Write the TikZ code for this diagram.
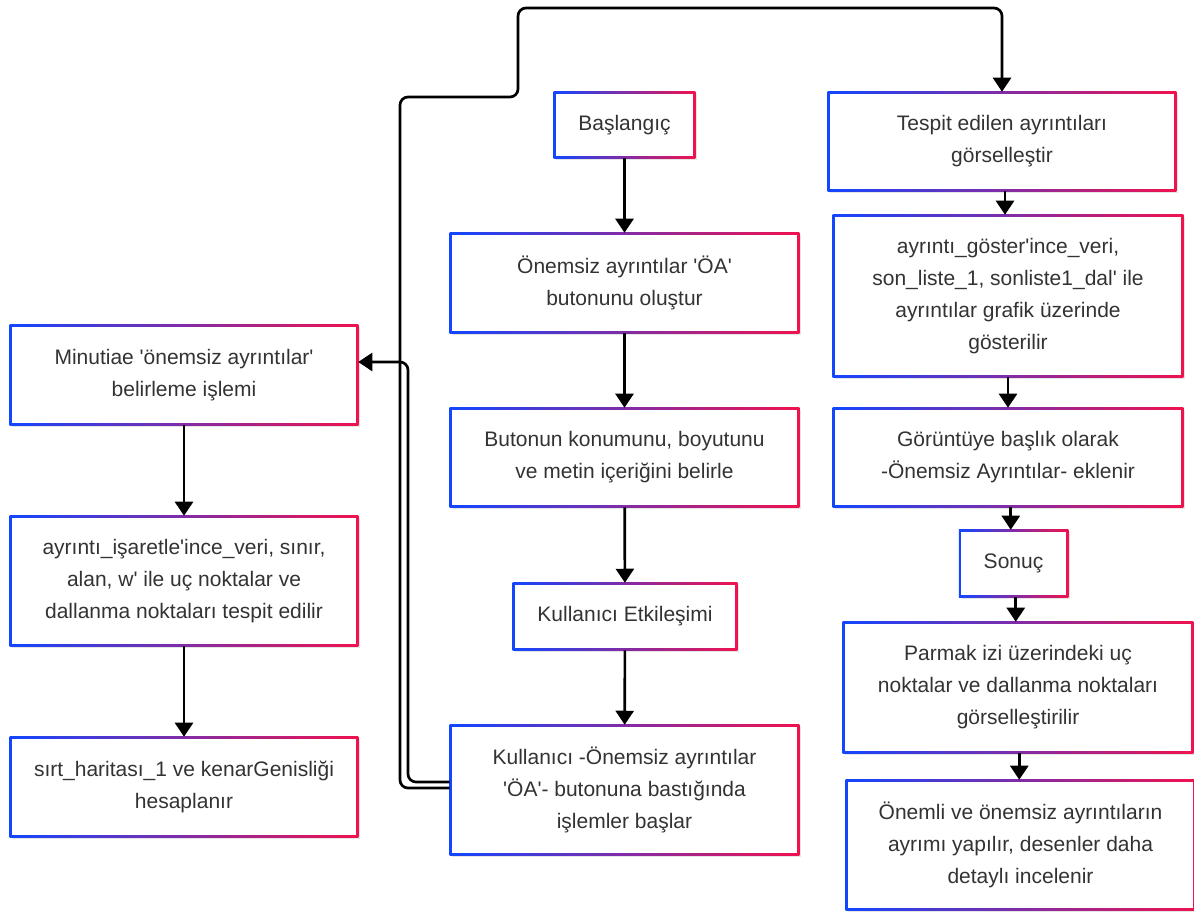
\documentclass[tikz,border=0pt]{standalone}
\usepackage{fontspec}
\setmainfont[Ligatures=TeXOff]{Liberation Sans}
\usetikzlibrary{arrows.meta,calc,backgrounds}

\definecolor{cblue}{RGB}{18,70,255}
\definecolor{cred}{RGB}{240,18,78}
\definecolor{txt}{RGB}{51,51,51}

\tikzset{
  box/.style={rectangle, inner sep=0pt, align=center, text=txt,
    font=\fontsize{15.75pt}{24pt}\selectfont},
  arrow/.style={draw=black, line width=2pt,
    -{Triangle[length=10.5pt,width=13.5pt]}},
  loopline/.style={arrow, rounded corners=6pt},
}

\begin{document}
\begin{tikzpicture}[x=0.75pt,y=-0.75pt]
\useasboundingbox (0,0) rectangle (1194,914);

% middle column
\node[box, minimum width=105.75pt, minimum height=49.5pt] (start) at (624.5,125) {Başlangıç};
\node[box, minimum width=261.75pt, minimum height=75pt] (create) at (624.5,283) {Önemsiz ayrıntılar 'ÖA'\\butonunu oluştur};
\node[box, minimum width=261.75pt, minimum height=74.25pt] (pos) at (624.5,457.5) {Butonun konumunu, boyutunu\\ve metin içeriğini belirle};
\node[box, minimum width=168pt, minimum height=50.25pt] (inter) at (625,616.5) {Kullanıcı Etkileşimi};
\node[box, minimum width=261.75pt, minimum height=97.5pt] (click) at (624.5,790) {Kullanıcı -Önemsiz ayrıntılar\\'ÖA'- butonuna bastığında\\işlemler başlar};

% left column
\node[box, minimum width=261pt, minimum height=75pt] (minut) at (184,375) {Minutiae 'önemsiz ayrıntılar'\\belirleme işlemi};
\node[box, minimum width=261pt, minimum height=97.5pt] (mark) at (184,581) {ayrıntı\_işaretle'ince\_veri, sınır,\\alan, w' ile uç noktalar ve\\dallanma noktaları tespit edilir};
\node[box, minimum width=261pt, minimum height=75pt] (ridge) at (184,787) {sırt\_haritası\_1 ve kenarGenisliği\\hesaplanır};

% right column
\node[box, minimum width=261pt, minimum height=74.25pt] (detect) at (1002,141.5) {Tespit edilen ayrıntıları\\görselleştir};
\node[box, minimum width=262.5pt, minimum height=121.5pt] (show) at (1008,296) {ayrıntı\_göster'ince\_veri,\\son\_liste\_1, sonliste1\_dal' ile\\ayrıntılar grafik üzerinde\\gösterilir};
\node[box, minimum width=262.5pt, minimum height=74.25pt] (title) at (1008,457.5) {Görüntüye başlık olarak\\-Önemsiz Ayrıntılar- eklenir};
\node[box, minimum width=81.75pt, minimum height=50.25pt] (result) at (1013.5,563.5) {Sonuç};
\node[box, minimum width=262.5pt, minimum height=98.25pt] (vis) at (1018,687.5) {Parmak izi üzerindeki uç\\noktalar ve dallanma noktaları\\görselleştirilir};
\node[box, minimum width=261.75pt, minimum height=97.5pt] (imp) at (1020.5,845) {Önemli ve önemsiz ayrıntıların\\ayrımı yapılır, desenler daha\\detaylı incelenir};

% frames: soft shadow, blue-to-red border, white face
\begin{scope}[on background layer]
\foreach \n in {start,create,pos,inter,click,minut,mark,ridge,detect,show,title,result,vis,imp}{
  \fill[black, opacity=0.10] ([shift={(1.5pt,-1.5pt)}]\n.south west) rectangle ([shift={(1.5pt,-1.5pt)}]\n.north east);
  \shade[left color=cblue, right color=cred] (\n.south west) rectangle (\n.north east);
  \fill[white] ([shift={(1.6pt,1.6pt)}]\n.south west) rectangle ([shift={(-1.6pt,-1.6pt)}]\n.north east);
}
\end{scope}

% middle column flow
\draw[arrow] (start) -- (create);
\draw[arrow] (create) -- (pos);
\draw[arrow] (pos) -- (inter);
\draw[arrow] (inter) -- (click);

% left column flow
\draw[arrow] (minut) -- (mark);
\draw[arrow] (mark) -- (ridge);

% right column flow, each link kept vertical
\foreach \a/\b in {detect/show,show/title,title/result,result/vis,vis/imp}{
  \coordinate (m) at ($(\a.south)!0.5!(\b.north)$);
  \draw[arrow] (\a.south -| m) -- (\b.north -| m);
}

% links leaving the click box on its left side
\coordinate (c1) at (408,782);
\coordinate (c2) at (408,362);
\draw[loopline] ($(click.west)+(0,-8)$) -- (c1) -- (c2) -- ($(minut.east)+(0,-13)$);

\coordinate (d1) at (400,788);
\coordinate (d2) at (400,97);
\coordinate (d3) at (518,97);
\coordinate (d4) at (518,8);
\coordinate (d5) at (1002,8);
\draw[loopline] ($(click.west)+(0,-2)$) -- (d1) -- (d2) -- (d3) -- (d4) -- (d5) -- (detect.north);
\end{tikzpicture}
\end{document}
